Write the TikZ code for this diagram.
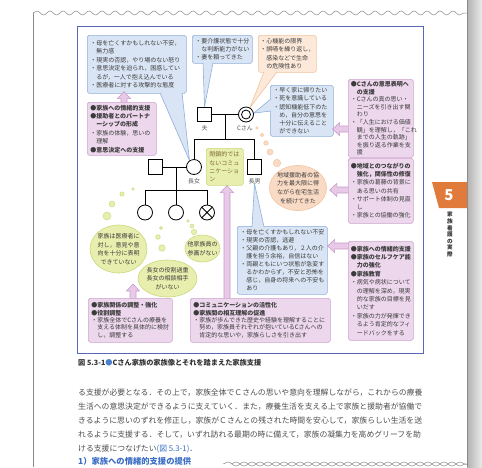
\documentclass[tikz,border=0pt]{standalone}
\usepackage{fontspec}
\setmainfont{Noto Sans CJK JP}
\usetikzlibrary{calc,shapes.geometric,decorations.pathmorphing}
\definecolor{figc}{HTML}{5567B5}
\definecolor{bluefl}{HTML}{D9E5F4}
\definecolor{bluebd}{HTML}{8FB0DC}
\definecolor{pinkfl}{HTML}{ECD7EC}
\definecolor{pinkbd}{HTML}{CFA3CF}
\definecolor{parrfl}{HTML}{E8C9E8}
\definecolor{parrbd}{HTML}{C99BC9}
\definecolor{orfl}{HTML}{FDE9D9}
\definecolor{orbd}{HTML}{F3C39C}
\definecolor{orell}{HTML}{F9DAC5}
\definecolor{grfl}{HTML}{E8EFAE}
\definecolor{grbd}{HTML}{CBD87C}
\definecolor{txtc}{HTML}{3A3A3A}
\definecolor{bodyc}{HTML}{4D4D4D}
\definecolor{capblue}{HTML}{4A7FD0}
\definecolor{headblue}{HTML}{3B6EC4}
\definecolor{tabor}{HTML}{E07B3C}
\definecolor{pagec}{HTML}{8A8A8A}
\definecolor{gtext}{HTML}{7D6A35}
\newcommand\sz[2]{\fontsize{#1}{#2}\selectfont}
\pgfdeclarelayer{bgpage}\pgfdeclarelayer{boxes}\pgfdeclarelayer{tails}\pgfdeclarelayer{arrows}
\pgfsetlayers{bgpage,boxes,tails,arrows,main}
\newcommand\blkup[2]{\path[parr] let \p1=(#1), \p2=(#2) in (\x1-3pt,\y1) -- (\x1-3pt,\y2-7pt) -- (\x1-6.5pt,\y2-7pt) -- (\x1,\y2) -- (\x1+6.5pt,\y2-7pt) -- (\x1+3pt,\y2-7pt) -- (\x1+3pt,\y1) -- cycle;}
\newcommand\blkleft[2]{\path[parr] let \p1=(#1), \p2=(#2) in (\x1,\y1+3pt) -- (\x2+7pt,\y1+3pt) -- (\x2+7pt,\y1+6.5pt) -- (\x2,\y1) -- (\x2+7pt,\y1-6.5pt) -- (\x2+7pt,\y1-3pt) -- (\x1,\y1-3pt) -- cycle;}
\newcommand\calltail[5]{\fill[#1] (#3) -- (#5) -- (#4) -- cycle; \draw[#2, line width=0.6pt] (#3) -- (#5) -- (#4);}
\begin{document}
\begin{tikzpicture}[x=1pt,y=-1pt,
 every node/.style={font=\sz{6}{8}, text=txtc},
 box/.style={anchor=north west, align=left, inner xsep=3pt, inner ysep=2pt, line width=0.6pt, rounded corners=1.8pt},
 bbox/.style={box, draw=bluebd, fill=bluefl},
 pbox/.style={box, draw=pinkbd, fill=pinkfl},
 obox/.style={box, draw=orbd, fill=orfl},
 gbox/.style={box, draw=grbd, fill=grfl, text=gtext},
 ell/.style={ellipse, inner xsep=-3pt, inner ysep=-2pt, align=center, line width=0.6pt, font=\sz{6}{8.6}},
 gell/.style={ell, draw=grbd, fill=grfl},
 oell/.style={ell, draw=orbd, fill=orell},
 gbub/.style={circle, inner sep=0pt, draw=grbd, fill=grfl, line width=0.4pt},
 obub/.style={circle, inner sep=0pt, draw=orbd, fill=orell, line width=0.4pt},
 sq/.style={draw=black, fill=white, minimum size=14.5pt, inner sep=0pt, line width=0.8pt},
 circ/.style={circle, draw=black, fill=white, minimum size=15pt, inner sep=0pt, line width=0.8pt},
 lbl/.style={font=\sz{6}{7}, text=black!65, inner sep=0pt},
 tree/.style={draw=black, line width=0.8pt},
 parr/.style={fill=parrfl, draw=parrbd, line width=0.6pt},
 body/.style={font=\sz{7.84}{9}, text=bodyc, inner sep=0pt, anchor=west}
]
\useasboundingbox (0,0) rectangle (482,467);
\begin{pgfonlayer}{bgpage}
\fill[white] (0,0) rectangle (482,467);
\shade[left color=black!30, right color=black!8] (467,0) rectangle (482,467);
\draw[pagec, line width=0.6pt] (467,0) -- (467,467);
\draw[pagec, line width=0.5pt] (33,13) -- (33,467);
\draw[pagec, line width=0.5pt, decorate, decoration={snake, amplitude=2pt, segment length=13pt}] (33,13) -- (467,13);
\draw[pagec, line width=0.5pt, decorate, decoration={snake, amplitude=2pt, segment length=16pt}] (223,464) -- (467,464);
\draw[pagec, line width=0.5pt, decorate, decoration={snake, amplitude=2pt, segment length=16pt}] (231,464) -- (467,464);
\node[draw=figc, line width=1.1pt, minimum width=346pt, minimum height=327pt, anchor=north west, inner sep=0pt] (fig) at (77,26) {};
\fill[tabor] (432,182) -- (467,182) -- (467,208) -- (439,208) -- cycle;
\end{pgfonlayer}

\begin{pgfonlayer}{boxes}
\node[bbox, text width=93pt, minimum height=58pt, font=\sz{6}{8.5}] (b1) at (87,35) {・母を亡くすかもしれない不安，\\　無力感\\・現実の否認，やり場のない怒り\\・意思決定を迫られ，困惑してい\\　るが，一人で抱え込んでいる\\・医療者に対する攻撃的な態度};
\node[bbox, text width=54pt, minimum height=28pt] (b2) at (192,35) {・要介護状態で十分\\　な判断能力がない\\・妻を頼ってきた};
\node[obox, inner xsep=2pt, text width=54pt, minimum height=37pt, font=\sz{6}{8.4}] (o1) at (258,35) {・心機能の限界\\・誤嚥を繰り返し，\\　感染などで生命\\　の危険性あり};
\node[bbox, text width=57pt, minimum height=51pt, font=\sz{6}{8.3}] (b3) at (270,85) {・早く家に帰りたい\\・死を意識している\\・認知機能低下のた\\　め，自分の意思を\\　十分に伝えること\\　ができない};
\node[bbox, text width=84pt, minimum height=68pt] (b4) at (237,226) {・母を亡くすかもしれない不安\\・現実の否認，逃避\\・父親の介護もあり，２人の介\\　護を担う余裕，自信はない\\・両親ともにいつ状態が急変す\\　るかわからず，不安と恐怖を\\　感じ，自身の将来への不安も\\　あり};
\node[gbox, text width=31pt, minimum height=37pt, font=\sz{6}{8.2}] (gb) at (206,148) {閉鎖的では\\ないコミュ\\ニケーショ\\ン};
\node[oell, minimum width=57pt, minimum height=45pt] (oe) at (298,188) {地域援助者の協\\力を最大限に得\\ながら在宅生活\\を続けてきた};
\node[gell, minimum width=57pt, minimum height=48pt] (ge1) at (118.5,249) {家族は医療者に\\対し，意見や意\\向を十分に表明\\できていない};
\node[gell, minimum width=59pt, minimum height=37pt] (ge2) at (167.5,278.5) {長女の役割過重\\長女の相談相手\\がいない};
\node[gell, minimum width=35pt, minimum height=27pt] (ge3) at (202.5,248.5) {他家族員の\\参画がない};
\end{pgfonlayer}

% family tree
\node[sq] (hus) at (204.5,114.5) {};
\node[circ] (csan) at (246,114.5) {};
\node[circle, draw=black, minimum size=9pt, inner sep=0pt, line width=0.8pt] (csin) at (246,114.5) {};
\node[circ] (dau) at (194,167) {};
\node[sq] (son) at (254.5,167) {};
\node[sq] (dhus) at (155.5,167) {};
\node[circ] (k1) at (145,212.5) {};
\node[circ] (k2) at (176,212.5) {};
\node[circ] (k3) at (207,212.5) {};
\node[lbl] (lhus) at (204.5,128.5) {夫};
\node[lbl] (lcs) at (245,128.5) {Cさん};
\node[lbl] (ldau) at (194,181) {長女};
\node[lbl] (lson) at (254.5,181) {長男};
\coordinate (m1) at ($(hus.east)!0.5!(csan.west)$);
\coordinate (sibY) at (0,139);
\coordinate (kidY) at (0,190);
\draw[tree] (hus.east) -- (csan.west);
\draw[tree] (m1) -- (m1 |- sibY);
\draw[tree] (dau.north) -- (dau.north |- sibY) -- (son.north |- sibY) -- (son.north);
\draw[tree] (dhus.east) -- (dau.west);
\draw[tree] (k2 |- dau) -- (k2.north);
\draw[tree] (k1.north) -- (k1 |- kidY) -- (k3 |- kidY) -- (k3.north);
\draw[tree] (k3.north west) -- (k3.south east) (k3.north east) -- (k3.south west);

\begin{pgfonlayer}{tails}
\calltail{bluefl}{bluebd}{$(b1.south west)+(73,-0.8)$}{$(b1.south west)+(95,-0.8)$}{dau.125}
\calltail{bluefl}{bluebd}{$(b2.south west)+(11,-0.8)$}{$(b2.south west)+(21,-0.8)$}{hus.north}
\calltail{orfl}{orbd}{$(o1.south west)+(6,-0.8)$}{$(o1.south west)+(19,-0.8)$}{csan.60}
\calltail{bluefl}{bluebd}{$(b3.north west)+(0.8,14)$}{$(b3.north west)+(0.8,26)$}{csan.10}
\calltail{bluefl}{bluebd}{$(b4.north west)+(15,0.8)$}{$(b4.north west)+(27,0.8)$}{lson.south}
\end{pgfonlayer}

% pink support boxes
\node[pbox, text width=63pt, minimum height=53pt, font=\sz{6}{8.4}] (p1) at (87,102) {{\bfseries ●家族への情緒的支援}\\{\bfseries ●援助者とのパートナ}\\{\bfseries 　ーシップの形成}\\・家族の体験，思いの\\　理解\\{\bfseries ●意思決定への支援}};
\node[pbox, inner xsep=2.5pt, text width=60pt, minimum height=77pt, font=\sz{6}{7.6}] (pc) at (348,79) {{\bfseries ●Cさんの意思表明へ}\\{\bfseries 　の支援}\\・Cさんの真の思い・\\　ニーズを引き出す関\\　わり\\・「人生における価値\\　観」を理解し，「これ\\　までの人生の軌跡」\\　を振り返る作業を支\\　援};
\node[pbox, inner xsep=2.5pt, text width=60pt, minimum height=65pt, font=\sz{6}{8.2}] (pr) at (348,158) {{\bfseries ●地域とのつながりの}\\{\bfseries 　強化，関係性の修復}\\・家族の葛藤の背景に\\　ある思いの共有\\・サポート体制の見直\\　し\\・家族との協働の強化};
\node[pbox, inner xsep=2.5pt, text width=60pt, minimum height=99pt, font=\sz{6}{8.4}] (pe) at (348,241) {{\bfseries ●家族への情緒的支援}\\{\bfseries ●家族のセルフケア能}\\{\bfseries 　力の強化}\\{\bfseries ●家族教育}\\・病気や病状について\\　の理解を深め，現実\\　的な家族の目標を見\\　いだす\\・家族の力が発揮でき\\　るよう肯定的なフィ\\　ードバックをする};
\node[pbox, text width=78pt, minimum height=44pt, font=\sz{6}{7.4}] (pf) at (88,298) {{\bfseries ●家族関係の調整・強化}\\{\bfseries ●役割調整}\\・家族全体でCさんの療養を\\　支える体制を具体的に検討\\　し，調整する};
\node[pbox, text width=134pt, minimum height=44pt, font=\sz{6}{7.4}] (pk) at (190,298) {{\bfseries ●コミュニケーションの活性化}\\{\bfseries ●家族間の相互理解の促進}\\・家族が歩んできた歴史や経験を理解することに\\　努め，家族員それぞれが抱いているCさんへの\\　肯定的な思いや，家族らしさを引き出す};

\begin{pgfonlayer}{arrows}
\blkup{$(p1.north west)+(37,4)$}{$(b1.south west)+(37,-2)$}
\blkup{$(pk.north west)+(37,4)$}{gb.south}
\blkup{$(pf.north west)+(45,4)$}{$(pf.north west)+(45,-14)$}
\blkleft{$(pc.north west)+(4,50)$}{$(b3.east)+(-1,0)$}
\blkleft{$(pr.north west)+(4,32)$}{$(oe.east)+(3,0)$}
\blkleft{$(pe.north west)+(4,5)$}{b4.east}
\end{pgfonlayer}

% thought bubbles
\node[obub, minimum size=2.6pt] (ob1) at (257,128) {};
\node[obub, minimum size=3.6pt] (ob2) at (262,135) {};
\node[obub, minimum size=4.6pt] (ob3) at (266,143) {};
\node[obub, minimum size=6pt] (ob4) at (270,152) {};
\node[obub, minimum size=7.6pt] (ob5) at (277,163) {};
\node[gbub, minimum size=2.6pt] (ga1) at (133,189) {};
\node[gbub, minimum size=4.4pt] (ga2) at (122,194) {};
\node[gbub, minimum size=6pt] (ga3) at (112,204) {};
\node[gbub, minimum size=8pt] (ga4) at (107,216) {};
\node[gbub, minimum size=3pt] (gc1) at (161,228) {};
\node[gbub, minimum size=4.6pt] (gc2) at (158,237) {};
\node[gbub, minimum size=6.6pt] (gc3) at (162,248) {};
\node[gbub, minimum size=2.6pt] (gd1) at (188,221) {};
\node[gbub, minimum size=4pt] (gd2) at (192,226) {};
\node[gbub, minimum size=5.4pt] (gd3) at (194,232) {};

% caption, body text, tab
\node[anchor=west, inner sep=0pt, font=\bfseries\sz{7.2}{8}, text=black!80] (cap) at (78,363) {図 5.3-1{\color{capblue}●}Cさん家族の家族像とそれを踏まえた家族支援};
\node[body] (l1) at (78,392.7) {る支援が必要となる．その上で，家族全体でＣさんの思いや意向を理解しながら，これからの療養};
\node[body] (l2) at (78,406.7) {生活への意思決定ができるように支えていく．また，療養生活を支える上で家族と援助者が協働で};
\node[body] (l3) at (78,420.7) {きるように思いのずれを修正し，家族がＣさんとの残された時間を安心して，家族らしい生活を送};
\node[body] (l4) at (78,434.7) {れるように支援する．そして，いずれ訪れる最期の時に備えて，家族の凝集力を高めグリーフを助};
\node[body] (l5) at (78,448.7) {ける支援につなげたい{\color{headblue}(図 5.3-1)}．};
\node[anchor=west, inner sep=0pt, font=\bfseries\sz{8.3}{9}, text=headblue] (h1) at (78,461.5) {1）家族への情緒的支援の提供};
\node[font=\bfseries\sz{15}{15}, text=white, inner sep=0pt] (five) at (449,195.5) {5};
\node[font=\bfseries\sz{5.6}{6.6}, align=center, anchor=north, inner sep=0pt, text=black!80] (vt) at (450,212) {家\\族\\看\\護\\の\\実\\際};
\end{tikzpicture}
\end{document}
